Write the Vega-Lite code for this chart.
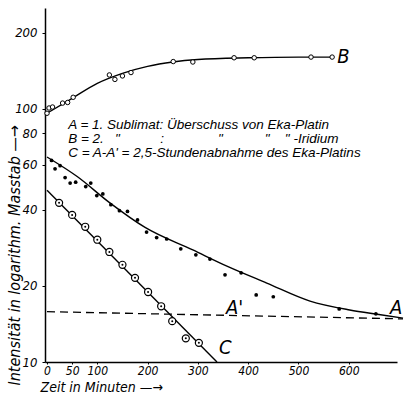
{
  "$schema": "https://vega.github.io/schema/vega-lite/v6.json",
  "width": 352,
  "height": 354,
  "autosize": {"type": "none"},
  "padding": {"left": 45, "top": 8, "right": 9, "bottom": 33},
  "background": "white",
  "config": {
    "view": {"stroke": null},
    "font": "Liberation Sans Narrow, DejaVu Sans Condensed, sans-serif",
    "axis": {"grid": false, "domainColor": "black", "tickColor": "black", "labelColor": "black", "titleColor": "black", "labelFontStyle": "italic", "titleFontStyle": "italic", "labelFontSize": 13, "titleFontSize": 14, "titleFontWeight": "normal", "domainWidth": 1.5}
  },
  "datasets": {
    "points": [
      {"s": "B", "t": 0, "v": 96},
      {"s": "B", "t": 4, "v": 100.7},
      {"s": "B", "t": 11, "v": 101.6},
      {"s": "B", "t": 31, "v": 105.3},
      {"s": "B", "t": 41, "v": 105.9},
      {"s": "B", "t": 52, "v": 111},
      {"s": "B", "t": 124, "v": 136},
      {"s": "B", "t": 135, "v": 130.6},
      {"s": "B", "t": 150, "v": 134.8},
      {"s": "B", "t": 167, "v": 139},
      {"s": "B", "t": 251, "v": 153.6},
      {"s": "B", "t": 290, "v": 153},
      {"s": "B", "t": 372, "v": 159},
      {"s": "B", "t": 412, "v": 159},
      {"s": "B", "t": 525, "v": 160},
      {"s": "B", "t": 567, "v": 160},
      {"s": "A", "t": 9, "v": 62.5},
      {"s": "A", "t": 16, "v": 57.9},
      {"s": "A", "t": 26, "v": 59.6},
      {"s": "A", "t": 36, "v": 53.5},
      {"s": "A", "t": 46, "v": 50.9},
      {"s": "A", "t": 57, "v": 51.3},
      {"s": "A", "t": 77, "v": 49.3},
      {"s": "A", "t": 87, "v": 50.9},
      {"s": "A", "t": 99, "v": 45.4},
      {"s": "A", "t": 111, "v": 46.1},
      {"s": "A", "t": 127, "v": 41.8},
      {"s": "A", "t": 144, "v": 39.6},
      {"s": "A", "t": 160, "v": 39.3},
      {"s": "A", "t": 180, "v": 36.4},
      {"s": "A", "t": 198, "v": 32.6},
      {"s": "A", "t": 218, "v": 31},
      {"s": "A", "t": 238, "v": 30.6},
      {"s": "A", "t": 266, "v": 28},
      {"s": "A", "t": 296, "v": 26.5},
      {"s": "A", "t": 324, "v": 25.5},
      {"s": "A", "t": 354, "v": 22.1},
      {"s": "A", "t": 386, "v": 22.5},
      {"s": "A", "t": 416, "v": 18.4},
      {"s": "A", "t": 450, "v": 18.1},
      {"s": "A", "t": 581, "v": 16.2},
      {"s": "A", "t": 654, "v": 15.5},
      {"s": "C", "t": 24, "v": 42.5},
      {"s": "C", "t": 50, "v": 38.1},
      {"s": "C", "t": 76, "v": 34.2},
      {"s": "C", "t": 100, "v": 30.4},
      {"s": "C", "t": 124, "v": 27.2},
      {"s": "C", "t": 150, "v": 24.2},
      {"s": "C", "t": 175, "v": 21.5},
      {"s": "C", "t": 201, "v": 18.9},
      {"s": "C", "t": 227, "v": 16.6},
      {"s": "C", "t": 249, "v": 14.5},
      {"s": "C", "t": 276, "v": 12.4},
      {"s": "C", "t": 302, "v": 11.9}
    ],
    "curves": [
      {"s": "B", "t": 0, "v": 96},
      {"s": "B", "t": 50, "v": 110},
      {"s": "B", "t": 100, "v": 126},
      {"s": "B", "t": 150, "v": 138},
      {"s": "B", "t": 200, "v": 147},
      {"s": "B", "t": 250, "v": 153},
      {"s": "B", "t": 300, "v": 156.5},
      {"s": "B", "t": 400, "v": 159},
      {"s": "B", "t": 500, "v": 160},
      {"s": "B", "t": 567, "v": 160},
      {"s": "A", "t": 0, "v": 64.5},
      {"s": "A", "t": 60, "v": 54},
      {"s": "A", "t": 125, "v": 42.5},
      {"s": "A", "t": 195, "v": 34},
      {"s": "A", "t": 290, "v": 27.7},
      {"s": "A", "t": 360, "v": 23.8},
      {"s": "A", "t": 437, "v": 20.5},
      {"s": "A", "t": 523, "v": 17.4},
      {"s": "A", "t": 602, "v": 16.05},
      {"s": "A", "t": 660, "v": 15.4},
      {"s": "A", "t": 708, "v": 14.9},
      {"s": "C", "t": 0, "v": 47.7},
      {"s": "C", "t": 338, "v": 10}
    ],
    "dashed": [
      {"s": "A'", "t": 0, "v": 15.8},
      {"s": "A'", "t": 708, "v": 14.8}
    ],
    "letters": [
      {"label": "B", "t": 577, "v": 160.5},
      {"label": "A", "t": 682, "v": 16.3},
      {"label": "A'", "t": 356, "v": 16.3},
      {"label": "C", "t": 342, "v": 11.4}
    ],
    "legend": [
      {"label": "A = 1. Sublimat: Überschuss von Eka-Platin", "t": 42, "v": 86.5},
      {"label": "B = 2.", "t": 42, "v": 76.0},
      {"label": "\"", "t": 135, "v": 76.0},
      {"label": ":", "t": 225, "v": 76.0},
      {"label": "\"", "t": 340, "v": 76.0},
      {"label": "\"", "t": 433, "v": 76.0},
      {"label": "\" -Iridium", "t": 473, "v": 76.0},
      {"label": "C = A-A' = 2,5-Stundenabnahme des Eka-Platins", "t": 42, "v": 67.0}
    ]
  },
  "encoding": {
    "x": {
      "field": "t", "type": "quantitative",
      "scale": {"domain": [-4, 696], "nice": false, "zero": false},
      "axis": {"values": [0, 50, 100, 200, 300, 400, 500, 600], "tickSize": 2, "labelPadding": 1, "labelFontSize": 12, "title": "Zeit in Minuten  —→", "titleX": -5, "titleY": 32, "titleAlign": "left", "titleBaseline": "bottom", "labelFlush": false}
    },
    "y": {
      "field": "v", "type": "quantitative",
      "scale": {"type": "log", "domain": [10, 250], "nice": false},
      "axis": {"values": [10, 20, 40, 60, 80, 100, 200], "format": "d", "tickSize": 3, "labelPadding": 5, "title": "Intensität in logarithm. Masstab —→", "titleFontSize": 16, "titleAngle": -90, "titleX": -31, "titleY": 377, "titleAlign": "left", "titleBaseline": "middle"}
    }
  },
  "layer": [
    {
      "data": {"name": "curves"},
      "mark": {"type": "line", "color": "black", "strokeWidth": 1.4, "interpolate": "monotone", "clip": false},
      "encoding": {"detail": {"field": "s"}}
    },
    {
      "data": {"name": "dashed"},
      "mark": {"type": "line", "color": "black", "strokeWidth": 1.3, "strokeDash": [8, 5], "clip": false},
      "encoding": {}
    },
    {
      "data": {"name": "points"},
      "transform": [{"filter": "datum.s === 'A'"}],
      "mark": {"type": "circle", "color": "black", "size": 14, "opacity": 1}
    },
    {
      "data": {"name": "points"},
      "transform": [{"filter": "datum.s === 'B'"}],
      "mark": {"type": "point", "shape": "circle", "fill": "white", "stroke": "black", "strokeWidth": 1, "size": 20, "filled": false, "opacity": 1}
    },
    {
      "data": {"name": "points"},
      "transform": [{"filter": "datum.s === 'C'"}],
      "mark": {"type": "point", "shape": "circle", "fill": "white", "stroke": "black", "strokeWidth": 1.2, "size": 50, "opacity": 1}
    },
    {
      "data": {"name": "points"},
      "transform": [{"filter": "datum.s === 'C'"}],
      "mark": {"type": "circle", "color": "black", "size": 4, "opacity": 1}
    },
    {
      "data": {"name": "letters"},
      "mark": {"type": "text", "align": "left", "baseline": "middle", "fontSize": 20, "fontStyle": "italic", "color": "black", "clip": false},
      "encoding": {"text": {"field": "label"}}
    },
    {
      "data": {"name": "legend"},
      "mark": {"type": "text", "align": "left", "baseline": "middle", "font": "Liberation Sans, sans-serif", "fontSize": 13.5, "fontStyle": "italic", "color": "black"},
      "encoding": {"text": {"field": "label"}}
    }
  ]
}
